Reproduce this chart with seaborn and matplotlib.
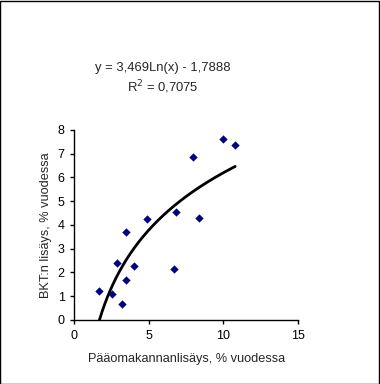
import numpy as np
import pandas as pd
import matplotlib
matplotlib.use("Agg")
import matplotlib.pyplot as plt
import seaborn as sns

# Data
capital_growth = [1.66, 2.54, 2.83, 3.19, 3.43, 3.43, 4.01, 4.89, 6.70, 6.83, 7.93, 8.38, 9.99, 10.79]
gdp_growth = [1.23, 1.09, 2.39, 0.67, 3.69, 1.67, 2.26, 4.24, 2.13, 4.53, 6.85, 4.28, 7.61, 7.36]
trend_a = 3.469
trend_b = -1.7888
trend_label = "y = 3,469Ln(x) - 1,7888"
r2_label = "R$^2$ = 0,7075"
x_ticks = [0, 5, 10, 15]
y_ticks = [0, 1, 2, 3, 4, 5, 6, 7, 8]
x_label = "Pääomakannanlisäys, % vuodessa"
y_label = "BKT:n lisäys, % vuodessa"

sns.set_style("white")
plt.rcParams["font.family"] = ["Liberation Sans", "DejaVu Sans"]

fig = plt.figure(figsize=(3.8, 3.84), dpi=100)
fig.patch.set_facecolor("white")
ax = fig.add_axes([0.196, 0.1667, 0.588, 0.495])

df = pd.DataFrame({"x": capital_growth, "y": gdp_growth})
sns.scatterplot(data=df, x="x", y="y", ax=ax, marker="D", s=18,
                color="#000080", edgecolor="#000080", linewidth=0, zorder=3)

x0 = np.exp(-trend_b / trend_a)
xs = np.linspace(x0, max(capital_growth), 200)
trend = pd.DataFrame({"x": xs, "y": trend_a * np.log(xs) + trend_b})
sns.lineplot(data=trend, x="x", y="y", ax=ax, color="black", linewidth=2, zorder=2)

ax.set_xlim(0, 15)
ax.set_ylim(0, 8)
ax.set_xticks(x_ticks)
ax.set_yticks(y_ticks)
ax.tick_params(axis="both", direction="out", length=3, width=1, labelsize=9,
               colors="black", pad=4, bottom=True, left=True)
for s in ["top", "right"]:
    ax.spines[s].set_visible(False)
for s in ["left", "bottom"]:
    ax.spines[s].set_color("black")
    ax.spines[s].set_linewidth(1)
ax.set_xlabel(x_label, fontsize=9.2, labelpad=8)
ax.set_ylabel(y_label, fontsize=9.2, labelpad=4)
ax.grid(False)

fig.text(163 / 380, 1 - 68 / 384, trend_label, ha="center", va="center", fontsize=9.4)
fig.text(163 / 380, 1 - 87 / 384, r2_label, ha="center", va="center", fontsize=9.4)

border = plt.Rectangle((0.001, 0.001), 0.997, 0.997, transform=fig.transFigure,
                       fill=False, edgecolor="black", linewidth=1)
fig.patches.append(border)

fig.savefig("out.png", dpi=100)
